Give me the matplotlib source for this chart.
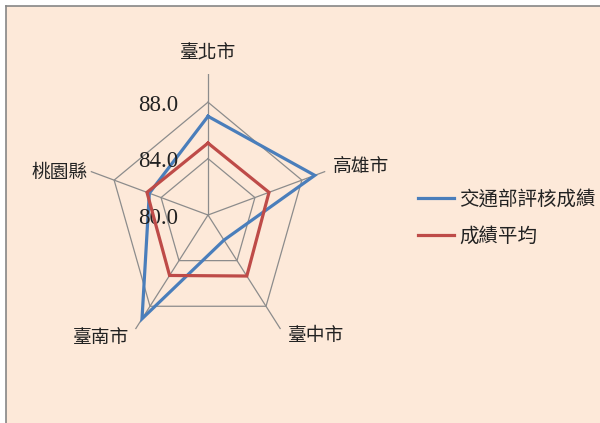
import numpy as np
import matplotlib
matplotlib.use("Agg")
import matplotlib.pyplot as plt
from matplotlib.patches import Rectangle
from matplotlib.lines import Line2D

plt.rcParams['font.family'] = ['Noto Sans CJK TC', 'DejaVu Sans']

categories = ['臺北市', '高雄市', '臺中市', '臺南市', '桃園縣']
series_names = ['交通部評核成績', '成績平均']
scores = [87.0, 89.1, 82.2, 89.1, 85.0]
averages = [85.1, 85.2, 85.35, 85.3, 85.2]
ring_levels = [80.0, 84.0, 88.0]
r_min, r_max = 80.0, 90.0

W, H = 600, 423
fig = plt.figure(figsize=(6.0, 4.23), dpi=100, facecolor='white')

# chart area background + border (top, left)
bg = '#FDE9D9'
fig.patches.append(Rectangle((6 / W, 0), 1 - 6 / W, 1 - 6 / H, transform=fig.transFigure,
                             facecolor=bg, edgecolor='none', zorder=-5))
fig.lines.append(Line2D([6 / W, 6 / W], [0, 1 - 6 / H], transform=fig.transFigure,
                        color='#868686', lw=1.2, zorder=-4))
fig.lines.append(Line2D([6 / W, 1], [1 - 6 / H, 1 - 6 / H], transform=fig.transFigure,
                        color='#868686', lw=1.2, zorder=-4))

cx, cy = 208, 215
Ry = 141
Rx = Ry * 0.875
ax = fig.add_axes([(cx - Rx) / W, (H - cy - Ry) / H, 2 * Rx / W, 2 * Ry / H],
                  projection='polar')
ax.set_aspect('auto')
ax.set_facecolor('none')
ax.set_theta_zero_location('N')
ax.set_theta_direction(-1)
ax.set_ylim(r_min, r_max)

n = len(categories)
angles = np.linspace(0, 2 * np.pi, n, endpoint=False)
closed = np.concatenate([angles, angles[:1]])

ax.set_xticks(angles)
ax.set_xticklabels([])
ax.set_yticks([])
ax.xaxis.grid(True, color='#8C8C8C', lw=0.9)
ax.yaxis.grid(False)
ax.spines['polar'].set_visible(False)

for lv in ring_levels[1:]:
    ax.plot(closed, [lv] * (n + 1), color='#8C8C8C', lw=0.9, zorder=1)

s_closed = list(scores) + [scores[0]]
a_closed = list(averages) + [averages[0]]
ax.plot(closed, s_closed, color='#4A7EBB', lw=2.3, label=series_names[0], zorder=3,
        solid_joinstyle='miter')
ax.plot(closed, a_closed, color='#BE4B48', lw=2.3, label=series_names[1], zorder=4,
        solid_joinstyle='miter')

# radial tick labels
for lv in ring_levels:
    ax.annotate(f'{lv:.1f}', xy=(0, lv), xytext=(-30, -3), textcoords='offset pixels',
                ha='right', va='center', fontsize=16.5, family='Liberation Serif',
                color='#222222', annotation_clip=False)

# category labels
offsets = [(0, 21, 'center'), (8, 5, 'left'), (7, -6, 'left'), (-6, -8, 'right'), (-3, -1, 'right')]
for ang, lab, (dx, dy, ha) in zip(angles, categories, offsets):
    ax.annotate(lab, xy=(ang, r_max), xytext=(dx, dy), textcoords='offset pixels',
                ha=ha, va='center', fontsize=13.5, color='#222222', annotation_clip=False)

leg = fig.legend(loc='upper left', bbox_to_anchor=(418 / W, 1 - 189 / H), frameon=False,
                 fontsize=14, handlelength=1.85, handletextpad=0.27, labelspacing=0.8,
                 borderpad=0, borderaxespad=0)
for t in leg.get_texts():
    t.set_color('#222222')

fig.savefig('out.png', dpi=100, facecolor='white')
